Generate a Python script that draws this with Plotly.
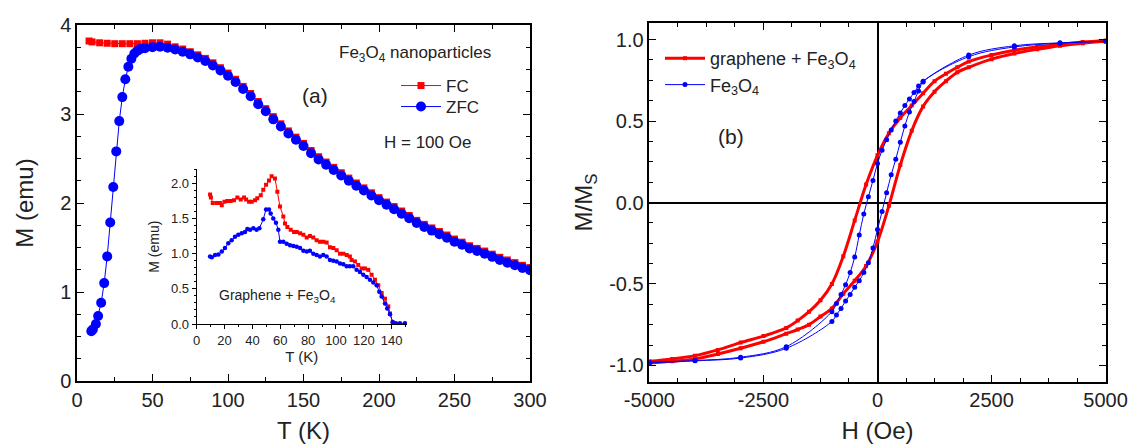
import plotly.graph_objects as go

# ---------------- (a) main panel: Fe3O4 nanoparticles, H = 100 Oe ----------------
T_fc = [8, 10, 15, 20, 25, 30, 35, 40, 45, 50, 55, 60, 65, 70, 75, 80, 85, 90, 95, 100,
        105, 110, 115, 120, 125, 130, 135, 140, 145, 150, 155, 160, 165, 170, 175, 180,
        185, 190, 195, 200, 205, 210, 215, 220, 225, 230, 235, 240, 245, 250, 255, 260,
        265, 270, 275, 280, 285, 290, 295, 300]
M_fc = [3.82, 3.81, 3.80, 3.795, 3.79, 3.79, 3.79, 3.79, 3.795, 3.80, 3.80, 3.785, 3.755,
        3.73, 3.70, 3.665, 3.625, 3.575, 3.52, 3.46, 3.39, 3.31, 3.23, 3.14, 3.06,
        2.97, 2.89, 2.81, 2.74, 2.67, 2.59, 2.52, 2.46, 2.40, 2.34, 2.28, 2.225,
        2.17, 2.115, 2.06, 2.01, 1.96, 1.91, 1.86, 1.805, 1.76, 1.72, 1.68, 1.64,
        1.595, 1.56, 1.52, 1.49, 1.46, 1.425, 1.39, 1.36, 1.33, 1.30, 1.275]

T_zfc = [9.5, 10.5, 12.5, 14, 16, 18, 20, 22, 24, 26, 28, 30, 32, 34, 36, 38, 40, 42,
         45, 50, 55, 60, 65, 70, 75, 80, 85, 90, 95, 100, 105, 110, 115, 120, 125, 130,
         135, 140, 145, 150, 155, 160, 165, 170, 175, 180, 185, 190, 195, 200, 205, 210,
         215, 220, 225, 230, 235, 240, 245, 250, 255, 260, 265, 270, 275, 280, 285, 290,
         295, 300]
M_zfc = [0.56, 0.58, 0.64, 0.73, 0.88, 1.10, 1.40, 1.78, 2.18, 2.58, 2.92, 3.19, 3.39,
         3.53, 3.62, 3.68, 3.71, 3.73, 3.74, 3.75, 3.755, 3.745, 3.725, 3.70, 3.67, 3.635,
         3.595, 3.545, 3.49, 3.43, 3.36, 3.28, 3.20, 3.11, 3.03, 2.94, 2.86, 2.78, 2.71,
         2.64, 2.56, 2.49, 2.43, 2.37, 2.31, 2.25, 2.195, 2.14, 2.085, 2.03, 1.98, 1.93,
         1.88, 1.83, 1.775, 1.73, 1.69, 1.65, 1.61, 1.565, 1.53, 1.49, 1.46, 1.43, 1.395,
         1.36, 1.33, 1.30, 1.27, 1.245]

# ---------------- (a) inset: graphene + Fe3O4 ----------------
Ti_fc = [9.6, 10.2, 11.5, 14.4, 16.7, 18.0, 19.9, 22.0, 24.4, 26.8, 29.2, 31.6, 34.0,
         35.5, 37.6, 39.5, 41.9, 43.5, 46.0, 47.8, 49.8, 51.9, 53.8, 56.2, 57.9, 59.8,
         62.2, 63.4, 65.1, 67.5, 69.9, 71.8, 74.2, 76.6, 79.0, 81.3, 83.7, 86.1, 88.5,
         90.9, 93.3, 95.7, 98.1, 100.5, 102.9, 105.3, 107.7, 110.0, 111.2, 113.6, 116.0,
         118.4, 120.8, 123.2, 125.6, 128.0, 130.4, 132.8, 135.2, 137.6, 138.8, 140.7]
Mi_fc = [1.84, 1.80, 1.72, 1.72, 1.72, 1.69, 1.74, 1.75, 1.75, 1.76, 1.80, 1.77, 1.80,
         1.77, 1.74, 1.74, 1.76, 1.79, 1.83, 1.91, 1.98, 2.04, 2.10, 2.07, 1.88, 1.67,
         1.53, 1.43, 1.38, 1.34, 1.31, 1.31, 1.29, 1.27, 1.23, 1.25, 1.23, 1.19, 1.17,
         1.17, 1.16, 1.09, 1.08, 1.05, 1.00, 1.00, 0.98, 0.96, 0.91, 0.89, 0.84, 0.79,
         0.79, 0.77, 0.70, 0.63, 0.55, 0.44, 0.36, 0.25, 0.15, 0.02]

Ti_zfc = [9.6, 10.8, 13.2, 15.6, 18.0, 20.3, 22.7, 25.1, 27.5, 29.9, 32.3, 34.7, 36.4,
          38.3, 40.7, 43.0, 45.0, 47.8, 49.8, 51.9, 53.1, 55.0, 56.9, 58.6, 59.8, 62.2,
          64.6, 67.0, 69.4, 71.8, 74.2, 76.6, 79.0, 81.3, 83.7, 86.1, 88.5, 90.9, 93.3,
          95.7, 98.1, 100.5, 102.9, 105.3, 107.7, 110.0, 112.4, 114.8, 117.2, 119.6, 122.0,
          124.4, 126.8, 129.2, 131.1, 132.8, 135.2, 136.8, 138.8, 140.7, 143.0, 145.9, 149.5]
Mi_zfc = [0.96, 0.95, 0.98, 0.99, 1.03, 1.08, 1.15, 1.19, 1.24, 1.27, 1.29, 1.31, 1.35,
          1.34, 1.36, 1.34, 1.36, 1.49, 1.63, 1.63, 1.57, 1.50, 1.44, 1.34, 1.17, 1.17,
          1.14, 1.12, 1.11, 1.10, 1.08, 1.04, 1.03, 1.04, 1.00, 0.98, 0.96, 0.98, 0.96,
          0.91, 0.90, 0.89, 0.86, 0.85, 0.82, 0.82, 0.82, 0.77, 0.74, 0.70, 0.67, 0.63,
          0.59, 0.55, 0.46, 0.39, 0.29, 0.22, 0.14, 0.03, 0.01, 0.01, 0.01]

# ---------------- (b) hysteresis loops ----------------
H_gr_up = [5000, 4500, 4000, 3500, 3000, 2500, 2000, 1750, 1500, 1250, 1000, 750, 500,
           250, 0, -250, -500, -750, -1000, -1250, -1500, -1750, -2000, -2500, -3000,
           -3500, -4000, -4500, -5000]
M_gr_up = [0.995, 0.985, 0.97, 0.955, 0.935, 0.905, 0.865, 0.83, 0.79, 0.745, 0.67, 0.595,
           0.52, 0.425, 0.29, 0.11, -0.11, -0.33, -0.50, -0.60, -0.67, -0.725, -0.77,
           -0.82, -0.86, -0.905, -0.94, -0.96, -0.975]
H_gr_dn = [-5000, -4500, -4000, -3500, -3000, -2500, -2000, -1750, -1500, -1250, -1000,
           -750, -500, -250, 0, 250, 500, 750, 1000, 1250, 1500, 1750, 2000, 2500, 3000,
           3500, 4000, 4500, 5000]
M_gr_dn = [-0.985, -0.975, -0.96, -0.93, -0.895, -0.855, -0.805, -0.78, -0.75, -0.70,
           -0.65, -0.56, -0.48, -0.39, -0.24, -0.02, 0.23, 0.44, 0.59, 0.68, 0.745, 0.80,
           0.83, 0.88, 0.915, 0.94, 0.962, 0.978, 0.99]

H_fe_up = [5000, 4000, 3000, 2000, 1000, 900, 800, 700, 600, 500, 400, 300, 200, 100, 0,
           -100, -200, -300, -400, -500, -600, -700, -800, -900, -1000, -2000, -3000,
           -4000, -5000]
M_fe_up = [0.99, 0.98, 0.962, 0.905, 0.745, 0.715, 0.675, 0.635, 0.595, 0.55, 0.50, 0.445,
           0.385, 0.32, 0.24, 0.135, 0.035, -0.07, -0.20, -0.335, -0.43, -0.505, -0.565,
           -0.62, -0.67, -0.885, -0.95, -0.97, -0.98]
H_fe_dn = [-5000, -4000, -3000, -2000, -1000, -900, -800, -700, -600, -500, -400, -300,
           -200, -100, 0, 100, 200, 300, 400, 500, 600, 700, 800, 900, 1000, 2000, 3000,
           4000, 5000]
M_fe_dn = [-0.985, -0.972, -0.955, -0.895, -0.73, -0.69, -0.65, -0.605, -0.565, -0.52,
           -0.48, -0.43, -0.37, -0.28, -0.165, -0.055, 0.06, 0.17, 0.265, 0.37, 0.47,
           0.555, 0.62, 0.685, 0.74, 0.895, 0.955, 0.978, 0.99]

H_ticks = [-5000, -2500, 0, 2500, 5000]
H_ticktext = ["-5000", "-2500", "0", "2500", "5000"]
Mn_ticks = [-1.0, -0.5, 0.0, 0.5, 1.0]
Mn_ticktext = ["-1.0", "-0.5", "0.0", "0.5", "1.0"]

RED = "#ff0000"
BLUE = "#0000ff"
TXT = "#222222"
FONT = "Liberation Sans, Arial, sans-serif"
W, Hpx = 1130, 444


def px_x(p):
    return p / W


def px_y(p):
    return 1 - p / Hpx


fig = go.Figure()

# main (a)
fig.add_trace(go.Scatter(x=T_fc, y=M_fc, mode="lines+markers", name="FC",
                         line=dict(color=RED, width=1),
                         marker=dict(symbol="square", size=7, color=RED),
                         xaxis="x", yaxis="y", legend="legend"))
fig.add_trace(go.Scatter(x=T_zfc, y=M_zfc, mode="lines+markers", name="ZFC",
                         line=dict(color=BLUE, width=1),
                         marker=dict(symbol="circle", size=10, color=BLUE),
                         xaxis="x", yaxis="y", legend="legend3"))
# inset
fig.add_trace(go.Scatter(x=Ti_fc, y=Mi_fc, mode="lines+markers", showlegend=False,
                         line=dict(color=RED, width=1),
                         marker=dict(symbol="square", size=4, color=RED),
                         xaxis="x3", yaxis="y3"))
fig.add_trace(go.Scatter(x=Ti_zfc, y=Mi_zfc, mode="lines+markers", showlegend=False,
                         line=dict(color=BLUE, width=1),
                         marker=dict(symbol="circle", size=4.5, color=BLUE),
                         xaxis="x3", yaxis="y3"))
# (b)
fig.add_trace(go.Scatter(x=H_gr_up, y=M_gr_up, mode="lines+markers",
                         name="graphene + Fe<sub>3</sub>O<sub>4</sub>",
                         line=dict(color=RED, width=3, shape="spline"),
                         marker=dict(symbol="square", size=4, color=RED),
                         xaxis="x2", yaxis="y2", legend="legend2"))
fig.add_trace(go.Scatter(x=H_gr_dn, y=M_gr_dn, mode="lines+markers", showlegend=False,
                         line=dict(color=RED, width=3, shape="spline"),
                         marker=dict(symbol="square", size=4, color=RED),
                         xaxis="x2", yaxis="y2"))
fig.add_trace(go.Scatter(x=H_fe_up, y=M_fe_up, mode="lines+markers",
                         name="Fe<sub>3</sub>O<sub>4</sub>",
                         line=dict(color=BLUE, width=1, shape="spline"),
                         marker=dict(symbol="circle", size=5, color=BLUE),
                         xaxis="x2", yaxis="y2", legend="legend2"))
fig.add_trace(go.Scatter(x=H_fe_dn, y=M_fe_dn, mode="lines+markers", showlegend=False,
                         line=dict(color=BLUE, width=1, shape="spline"),
                         marker=dict(symbol="circle", size=5, color=BLUE),
                         xaxis="x2", yaxis="y2"))

tickfont = dict(family=FONT, size=20, color=TXT)
titlefont = dict(family=FONT, size=24, color=TXT)
box = dict(showline=True, linecolor="black", linewidth=1.5, mirror="allticks",
           ticks="inside", ticklen=7, tickwidth=1.3, tickcolor="black",
           showgrid=False, zeroline=False, tickfont=tickfont, automargin=False)

leg_common = dict(xanchor="left", yanchor="middle", bgcolor="rgba(0,0,0,0)",
                  borderwidth=0, itemwidth=40)

fig.update_layout(
    width=W, height=Hpx,
    margin=dict(l=0, r=0, t=0, b=0),
    paper_bgcolor="white", plot_bgcolor="rgba(0,0,0,0)",
    font=dict(family=FONT, color=TXT),
    xaxis=dict(domain=[px_x(77), px_x(530)], range=[0, 300], dtick=50, tick0=0,
               minor=dict(dtick=25, ticklen=4, ticks="inside", tickcolor="black"),
               title=dict(text="T (K)", font=titlefont, standoff=12), anchor="y", **box),
    yaxis=dict(domain=[px_y(381), px_y(25)], range=[0, 4], dtick=1, tick0=0,
               minor=dict(dtick=0.25, ticklen=4, ticks="inside", tickcolor="black"),
               title=dict(text="M (emu)", font=titlefont, standoff=20), anchor="x", **box),
    xaxis2=dict(domain=[px_x(649.4), px_x(1105.6)], range=[-5000, 5000],
                tickmode="array", tickvals=H_ticks, ticktext=H_ticktext,
                minor=dict(dtick=625, tick0=0, ticklen=4, ticks="inside", tickcolor="black"),
                title=dict(text="H (Oe)", font=titlefont, standoff=12), anchor="y2", **box),
    yaxis2=dict(domain=[px_y(381.7), px_y(23.3)], range=[-1.1, 1.1],
                tickmode="array", tickvals=Mn_ticks, ticktext=Mn_ticktext,
                minor=dict(dtick=0.125, tick0=0, ticklen=4, ticks="inside", tickcolor="black"),
                title=dict(text="M/M<sub>S</sub>", font=titlefont, standoff=10), anchor="x2", **box),
    xaxis3=dict(domain=[px_x(196.7), px_x(407)], range=[0, 151], dtick=20, tick0=0,
                showline=True, linecolor="black", linewidth=1, ticks="outside", ticklen=4,
                tickcolor="black", showgrid=False, zeroline=False, automargin=False,
                minor=dict(dtick=10, ticklen=2, ticks="outside", tickcolor="black"),
                tickfont=dict(family=FONT, size=13, color=TXT),
                title=dict(text="T (K)", font=dict(family=FONT, size=15, color=TXT), standoff=4),
                anchor="y3"),
    yaxis3=dict(domain=[px_y(324), px_y(169.3)], range=[0, 2.2], dtick=0.5, tick0=0,
                tickformat=".1f",
                showline=True, linecolor="black", linewidth=1, ticks="outside", ticklen=4,
                tickcolor="black", showgrid=False, zeroline=False, automargin=False,
                minor=dict(dtick=0.1, ticklen=2, ticks="outside", tickcolor="black"),
                tickfont=dict(family=FONT, size=13, color=TXT),
                title=dict(text="M (emu)", font=dict(family=FONT, size=14, color=TXT), standoff=8),
                anchor="x3"),
    legend=dict(x=px_x(396), y=px_y(86), font=dict(family=FONT, size=17, color=TXT), **leg_common),
    legend3=dict(x=px_x(396), y=px_y(107), font=dict(family=FONT, size=17, color=TXT), **leg_common),
    legend2=dict(x=px_x(660), y=px_y(40), xanchor="left", yanchor="top",
                 bgcolor="rgba(0,0,0,0)", borderwidth=0, itemwidth=40,
                 font=dict(family=FONT, size=18, color=TXT), tracegroupgap=0),
    showlegend=True,
)

# zero lines in (b)
fig.layout.xaxis2.zeroline = True
fig.layout.xaxis2.zerolinecolor = "black"
fig.layout.xaxis2.zerolinewidth = 1.5
fig.layout.yaxis2.zeroline = True
fig.layout.yaxis2.zerolinecolor = "black"
fig.layout.yaxis2.zerolinewidth = 1.5

ann = [
    dict(text="Fe<sub>3</sub>O<sub>4</sub> nanoparticles", x=px_x(337), y=px_y(54),
         xanchor="left", yanchor="middle", font=dict(family=FONT, size=17, color=TXT)),
    dict(text="(a)", x=px_x(315), y=px_y(95), xanchor="center", yanchor="middle",
         font=dict(family=FONT, size=21, color=TXT)),
    dict(text="H = 100 Oe", x=px_x(382), y=px_y(142), xanchor="left", yanchor="middle",
         font=dict(family=FONT, size=17, color=TXT)),
    dict(text="Graphene + Fe<sub>3</sub>O<sub>4</sub>", x=px_x(217), y=px_y(296),
         xanchor="left", yanchor="middle", font=dict(family=FONT, size=14, color=TXT)),
    dict(text="(b)", x=px_x(731), y=px_y(136), xanchor="center", yanchor="middle",
         font=dict(family=FONT, size=21, color=TXT)),
]
for a in ann:
    a.update(xref="paper", yref="paper", showarrow=False)
fig.update_layout(annotations=ann)

fig.write_html("out.html",
               config={"displayModeBar": False},
               post_script="document.body.style.margin='0px';document.body.style.overflow='hidden';")
